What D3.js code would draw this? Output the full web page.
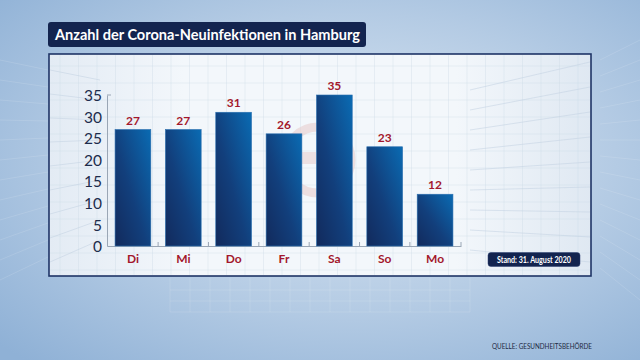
<!DOCTYPE html>
<html><head><meta charset="utf-8">
<script src="https://cdn.jsdelivr.net/npm/d3@7"></script>
<style>html,body{margin:0;padding:0;overflow:hidden;background:#a9c3df}</style>
</head><body>
<svg id="c" width="640" height="360"></svg>
<script>
const categories = ["Di","Mi","Do","Fr","Sa","So","Mo"];
const values = [27,27,31,26,35,23,12];
const yTicks = [0,5,10,15,20,25,30,35];
const title = "Anzahl der Corona-Neuinfektionen in Hamburg";
const standText = "Stand: 31. August 2020";
const sourceText = "QUELLE: GESUNDHEITSBEHÖRDE";

const svg = d3.select("#c");
const defs = svg.append("defs");

const bg = defs.append("radialGradient").attr("id","bg").attr("cx","0.55").attr("cy","0.45").attr("r","0.75");
bg.append("stop").attr("offset","0").attr("stop-color","#dde8f3");
bg.append("stop").attr("offset","0.55").attr("stop-color","#b4cbe4");
bg.append("stop").attr("offset","1").attr("stop-color","#8fb1d6");
svg.append("rect").attr("width",640).attr("height",360).attr("fill","url(#bg)");

const bgGrid = svg.append("g").attr("stroke","#ffffff").attr("stroke-opacity",0.18).attr("stroke-width",0.7);
for (let i=0;i<14;i++){ bgGrid.append("line").attr("x1",600).attr("y1",60+i*16).attr("x2",640).attr("y2",40+i*20); }
for (let i=0;i<12;i++){ bgGrid.append("line").attr("x1",0).attr("y1",60+i*20).attr("x2",48).attr("y2",70+i*17); }
for (let i=0;i<16;i++){ bgGrid.append("line").attr("x1",170+i*20).attr("y1",278).attr("x2",170+i*20).attr("y2",312); }
for (let i=0;i<3;i++){ bgGrid.append("line").attr("x1",170).attr("y1",290+i*11).attr("x2",470).attr("y2",290+i*11); }

const pg = defs.append("linearGradient").attr("id","pg").attr("x1","0").attr("x2","1");
pg.append("stop").attr("offset","0").attr("stop-color","#e3ebf4");
pg.append("stop").attr("offset","0.25").attr("stop-color","#f3f7fb");
pg.append("stop").attr("offset","0.75").attr("stop-color","#f3f7fb");
pg.append("stop").attr("offset","1").attr("stop-color","#dfe8f2");
svg.append("rect").attr("x",49).attr("y",54).attr("width",542).attr("height",222)
  .attr("fill","url(#pg)").attr("stroke","#1e3466").attr("stroke-width",1.6);
const pgrid = svg.append("g").attr("stroke","#c9d6e4").attr("stroke-opacity",0.55).attr("stroke-width",0.6);
for (let x=60;x<590;x+=18.5){ pgrid.append("line").attr("x1",x).attr("x2",x).attr("y1",55).attr("y2",275); }
for (let y=66;y<275;y+=17){ pgrid.append("line").attr("x1",50).attr("x2",590).attr("y1",y).attr("y2",y); }
const side = svg.append("g").attr("stroke","#c3d2e2").attr("stroke-width",0.8).attr("stroke-opacity",0.7);
for (let i=0;i<9;i++){ side.append("line").attr("x1",50).attr("y1",70+i*24).attr("x2",100).attr("y2",80+i*20); }
for (let i=0;i<9;i++){ side.append("line").attr("x1",470).attr("y1",90+i*20).attr("x2",590).attr("y2",62+i*25); }

// watermark
svg.append("circle").attr("cx",318).attr("cy",160).attr("r",33).attr("fill","none")
  .attr("stroke","#e6caca").attr("stroke-width",9).attr("stroke-opacity",0.55);
svg.append("rect").attr("x",302).attr("y",152).attr("width",14).attr("height",12).attr("fill","#e6caca").attr("opacity",0.5);

// title
svg.append("rect").attr("x",48).attr("y",22).attr("width",318).attr("height",25).attr("rx",3)
  .attr("fill","#13244f");
svg.append("text").attr("x",55).attr("y",40).text(title)
  .attr("fill","#ffffff").attr("font-family","Lato, 'Open Sans', sans-serif").attr("font-weight","bold")
  .attr("font-size",16).attr("textLength",305).attr("lengthAdjust","spacingAndGlyphs");

const x = d3.scaleBand().domain(categories).range([107,461]).paddingInner(0.29).paddingOuter(0.16);
const y = d3.scaleLinear().domain([0,35]).range([246,95]);

const bgd = defs.append("linearGradient").attr("id","bar").attr("x1","1").attr("y1","0").attr("x2","0").attr("y2","1");
bgd.append("stop").attr("offset","0").attr("stop-color","#0a6bb3");
bgd.append("stop").attr("offset","0.55").attr("stop-color","#123f7c");
bgd.append("stop").attr("offset","1").attr("stop-color","#122a5c");

const yAxis = svg.append("g").attr("transform","translate(107,0)")
  .call(d3.axisLeft(y).tickValues(yTicks).tickSize(0).tickPadding(5));
yAxis.select(".domain").attr("stroke","#9aa6b5").attr("stroke-width",1);
yAxis.selectAll("text").attr("fill","#1d2c4c").attr("font-family","Lato, 'Open Sans', sans-serif")
  .attr("font-size",15.5).attr("dy","0.36em");
svg.append("line").attr("x1",107).attr("x2",111).attr("y1",y(35)).attr("y2",y(35)).attr("stroke","#9aa6b5");

const xAxis = svg.append("g").attr("transform","translate(0,246)")
  .call(d3.axisBottom(x).tickSize(0).tickPadding(8));
xAxis.select(".domain").attr("stroke","#9aa6b5").attr("stroke-width",1);
xAxis.selectAll("text").attr("fill","#a3172c").attr("font-family","Lato, 'Open Sans', sans-serif")
  .attr("font-weight","bold").attr("font-size",12).attr("dy","0.71em");
const bounds = categories.slice(1).map(c => x(c) - x.step()*x.paddingInner()/2);
bounds.push(461);
svg.append("g").selectAll("line").data(bounds).join("line")
  .attr("x1",d=>d).attr("x2",d=>d).attr("y1",246).attr("y2",242).attr("stroke","#9aa6b5");

svg.append("g").selectAll("rect").data(values).join("rect")
  .attr("x",(d,i)=>x(categories[i])).attr("width",x.bandwidth())
  .attr("y",d=>y(d)).attr("height",d=>y(0)-y(d))
  .attr("fill","url(#bar)").attr("stroke","#2a6fb0").attr("stroke-width",0.6);

svg.append("g").selectAll("text").data(values).join("text")
  .attr("x",(d,i)=>x(categories[i])+x.bandwidth()/2).attr("y",d=>y(d)-5)
  .attr("text-anchor","middle").text(d=>d)
  .attr("fill","#a3172c").attr("font-family","Lato, 'Open Sans', sans-serif")
  .attr("font-weight","bold").attr("font-size",12);

svg.append("rect").attr("x",488).attr("y",252.5).attr("width",92).attr("height",14).attr("rx",3)
  .attr("fill","#13244f").attr("stroke","#2c3f70").attr("stroke-width",0.5);
svg.append("text").attr("x",497).attr("y",262.5).text(standText)
  .attr("fill","#ffffff").attr("font-family","Lato, 'Open Sans', sans-serif")
  .attr("font-weight","bold").attr("font-size",8.5).attr("textLength",74).attr("lengthAdjust","spacingAndGlyphs");

svg.append("text").attr("x",492).attr("y",348.5).text(sourceText)
  .attr("fill","#1e2a44").attr("font-family","Lato, 'Open Sans', sans-serif")
  .attr("font-size",8).attr("textLength",100).attr("lengthAdjust","spacingAndGlyphs");
</script>
</body></html>
